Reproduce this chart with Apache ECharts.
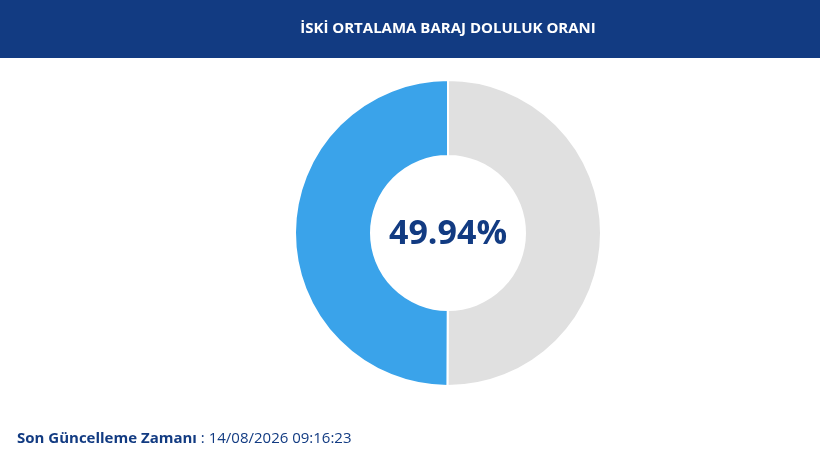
<!DOCTYPE html>
<html><head><meta charset="utf-8">
<script src="https://cdn.jsdelivr.net/npm/echarts@6/dist/echarts.min.js"></script>
<style>html,body{margin:0;padding:0;background:#fff}#c{width:820px;height:461px}</style>
</head><body><div id="c"></div>
<script>
const title = 'İSKİ ORTALAMA BARAJ DOLULUK ORANI';
const categories = ['Boş', 'Dolu'];
const values = [50.06, 49.94];
const centerLabel = '49.94%';
const updateLabel = 'Son Güncelleme Zamanı';
const updateTime = ' : 14/08/2026 09:16:23';
const chart = echarts.init(document.getElementById('c'));
chart.setOption({
  animation: false,
  graphic: [
    {type:'rect', shape:{x:0,y:0,width:820,height:58}, style:{fill:'#123b82'}},
    {type:'text', x:448, y:29, style:{text:title, fill:'#fff', font:'bold 15px "Open Sans", sans-serif', align:'center', verticalAlign:'middle'}},
    {type:'text', x:448, y:234, style:{text:centerLabel, fill:'#123b82', font:'bold 34px "Open Sans", sans-serif', align:'center', verticalAlign:'middle'}},
    {type:'text', x:17, y:439, style:{rich:{b:{fontWeight:'bold',fontSize:15,fontFamily:'"Open Sans", sans-serif',fill:'#123b82'},n:{fontSize:15,fontFamily:'"Open Sans", sans-serif',fill:'#123b82'}}, text:'{b|'+updateLabel+'}{n|'+updateTime+'}', verticalAlign:'middle'}}
  ],
  series: [{
    type:'pie', center:[448,233], radius:[77,153], startAngle:90,
    label:{show:false}, labelLine:{show:false}, silent:true,
    itemStyle:{borderColor:'#fff', borderWidth:2},
    data: categories.map((c,i)=>({name:c, value:values[i], itemStyle:{color: i===0?'#e0e0e0':'#3aa3ea'}}))
  }]
});
</script></body></html>
